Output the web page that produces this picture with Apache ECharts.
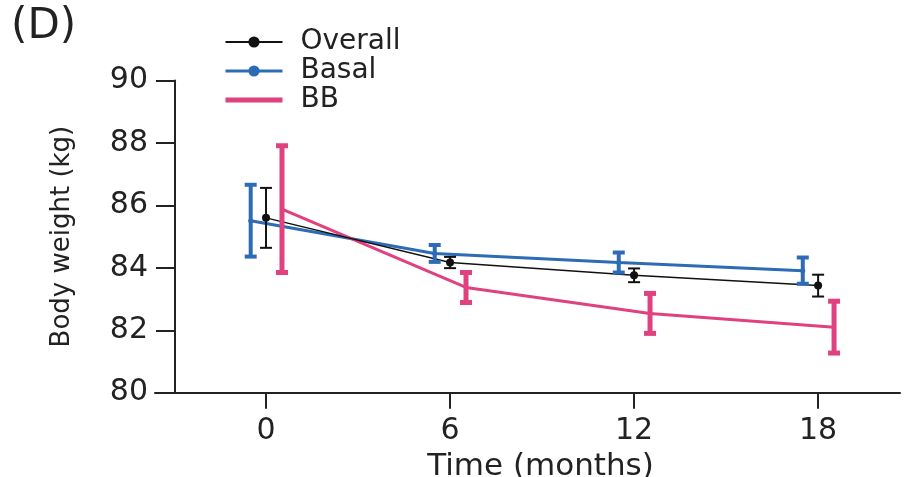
<!DOCTYPE html>
<html><head><meta charset="utf-8">
<script src="https://cdn.jsdelivr.net/npm/echarts@6/dist/echarts.min.js"></script>
<style>html,body{margin:0;padding:0;background:#fff}#c{width:904px;height:477px}</style>
</head><body><div id="c"></div>
<script>
var months = [0, 6, 12, 18];
var tickLabels = ['0', '6', '12', '18'];
var seriesNames = ['Overall', 'Basal', 'BB'];
var overallMean = [85.6, 84.17, 83.76, 83.43];
var overallErr  = [0.96, 0.18, 0.22, 0.35];
var basalMean   = [85.51, 84.46, 84.17, 83.91];
var basalErr    = [1.15, 0.27, 0.32, 0.42];
var bbMean      = [85.88, 83.37, 82.54, 82.1];
var bbErr       = [2.03, 0.48, 0.64, 0.83];

var FONT = 'DejaVu Sans';
var TXT = '#222';
var shift = {Overall: 0, Basal: -0.5, BB: 0.52};
var colors = {Overall: '#111111', Basal: '#2d6cb5', BB: '#e0417f'};

function pts(name, mean) {
  return months.map(function (m, i) { return [m + shift[name], mean[i]]; });
}
function errData(name, mean, err) {
  return months.map(function (m, i) { return [m + shift[name], mean[i] - err[i], mean[i] + err[i]]; });
}
function errSeries(name, mean, err, lw, half) {
  return {
    type: 'custom', name: name + ' SE', silent: true, z: 5,
    data: errData(name, mean, err),
    encode: {x: 0, y: [1, 2]},
    renderItem: function (params, api) {
      var lo = api.coord([api.value(0), api.value(1)]);
      var hi = api.coord([api.value(0), api.value(2)]);
      var st = {stroke: colors[name], lineWidth: lw, fill: null};
      return {type: 'group', children: [
        {type: 'line', shape: {x1: lo[0], y1: lo[1], x2: hi[0], y2: hi[1]}, style: st},
        {type: 'line', shape: {x1: lo[0] - half, y1: lo[1], x2: lo[0] + half, y2: lo[1]}, style: st},
        {type: 'line', shape: {x1: hi[0] - half, y1: hi[1], x2: hi[0] + half, y2: hi[1]}, style: st}
      ]};
    }
  };
}

var chart = echarts.init(document.getElementById('c'));
chart.setOption({
  animation: false,
  backgroundColor: '#fff',
  title: {text: '(D)', left: 6, top: 1, textStyle: {fontFamily: FONT, fontSize: 42, fontWeight: 'normal', color: TXT}},
  legend: {
    orient: 'vertical', left: 218, top: 23, itemWidth: 57, itemHeight: 14, itemGap: 1,
    data: [
      {name: 'Overall', lineStyle: {width: 2}},
      {name: 'Basal', lineStyle: {width: 3}},
      {name: 'BB', lineStyle: {width: 5}, itemStyle: {opacity: 0}}
    ],
    textStyle: {fontFamily: FONT, fontSize: 28, color: TXT, padding: [0, 0, 0, 13]}
  },
  grid: {left: 155, right: 4, top: 80.5, bottom: 84.3, containLabel: false, outerBoundsMode: 'none'},
  xAxis: {
    type: 'value', min: -3.62, max: 20.67,
    name: 'Time (months)', nameLocation: 'middle', nameGap: 49,
    nameTextStyle: {fontFamily: FONT, fontSize: 31, color: TXT, verticalAlign: 'top', padding: [0, 0, 0, 26]},
    axisLine: {onZero: false, lineStyle: {color: '#222', width: 2}},
    axisTick: {length: 16, lineStyle: {color: '#222', width: 2}, customValues: months},
    axisLabel: {customValues: months, formatter: function (v) { return tickLabels[months.indexOf(v)]; },
      fontFamily: FONT, fontSize: 30, color: TXT, margin: 24},
    splitLine: {show: false}
  },
  yAxis: {
    type: 'value', min: 80, max: 90, interval: 2, offset: -20,
    name: 'Body weight (kg)', nameLocation: 'middle', nameGap: 100,
    nameTextStyle: {fontFamily: FONT, fontSize: 26, color: TXT},
    axisLine: {show: true, onZero: false, lineStyle: {color: '#222', width: 2}},
    axisTick: {show: true, length: 19, lineStyle: {color: '#222', width: 2}},
    axisLabel: {fontFamily: FONT, fontSize: 30, color: TXT, margin: 27},
    splitLine: {show: false}
  },
  series: [
    {name: 'Overall', type: 'line', data: pts('Overall', overallMean), color: colors.Overall,
      lineStyle: {width: 1.5}, symbol: 'circle', symbolSize: 8, z: 4},
    {name: 'Basal', type: 'line', data: pts('Basal', basalMean), color: colors.Basal,
      lineStyle: {width: 3}, symbol: 'circle', symbolSize: 5, z: 3},
    {name: 'BB', type: 'line', data: pts('BB', bbMean), color: colors.BB,
      lineStyle: {width: 3}, symbol: 'none', z: 3},
    errSeries('Overall', overallMean, overallErr, 2, 6),
    errSeries('Basal', basalMean, basalErr, 4, 6),
    errSeries('BB', bbMean, bbErr, 5, 6)
  ]
});
</script></body></html>
